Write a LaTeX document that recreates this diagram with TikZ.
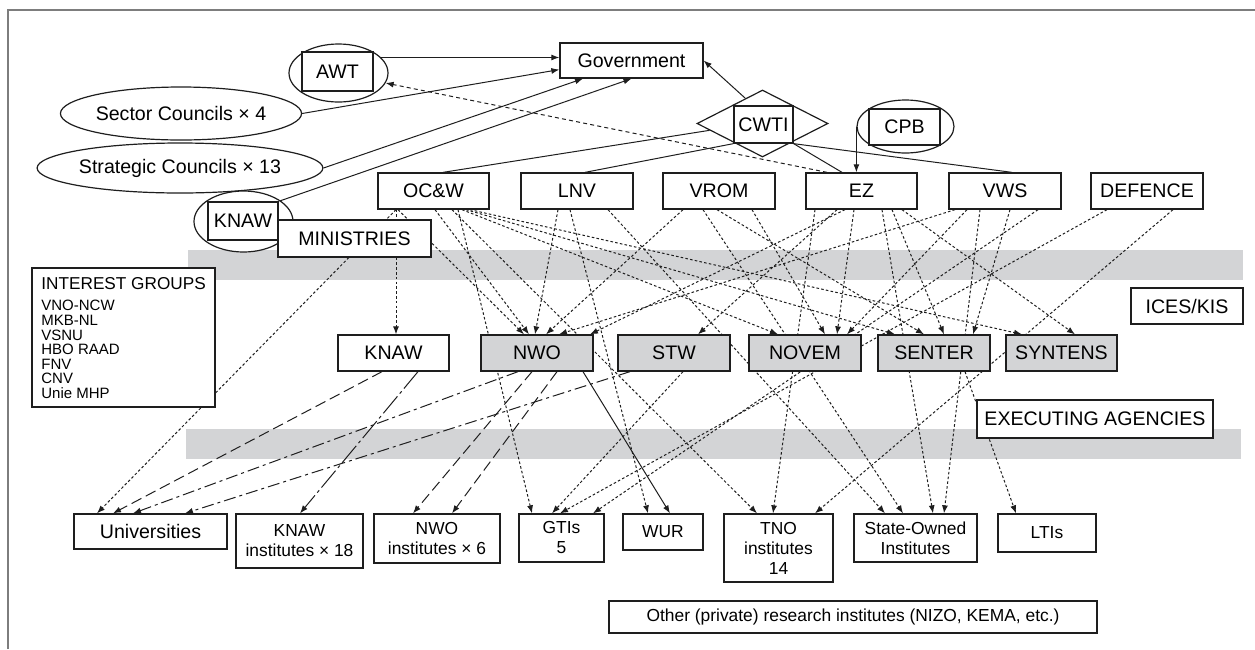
\documentclass[tikz,border=0pt]{standalone}
\usepackage{fontspec}
\setmainfont{Liberation Sans}
\usetikzlibrary{shapes.geometric,arrows.meta,calc}
\definecolor{bandgray}{RGB}{211,212,214}
\definecolor{framegray}{RGB}{125,125,125}
\definecolor{ink}{RGB}{30,30,30}
\pgfdeclarelayer{bands}
\pgfdeclarelayer{links}
\pgfsetlayers{bands,links,main}
\newcommand\fmain{\fontsize{9.8}{11}\selectfont}
\newcommand\fsmall{\fontsize{8.7}{10}\selectfont}
\begin{document}
\begin{tikzpicture}[x=0.5pt,y=-0.5pt,
  bx/.style={draw=ink, fill=white, line width=0.65pt, inner sep=0pt, font=\fmain, align=center},
  ag/.style={bx, fill=bandgray},
  sm/.style={font=\fsmall},
  el/.style={draw=ink, fill=white, ellipse, inner sep=0pt, line width=0.6pt, font=\fmain},
  sz/.style 2 args={minimum width={#1*0.5pt}, minimum height={#2*0.5pt}},
  ah/.style={-{Latex[length=4pt,width=3pt]}},
  lk/.style={draw=ink, line width=0.5pt},
  slink/.style={lk, ah},
  dlink/.style={lk, ah, dash pattern=on 1.3pt off 1.1pt},
  dashlink/.style={lk, ah, dash pattern=on 2pt off 1.6pt},
  ldlink/.style={lk, ah, dash pattern=on 5.5pt off 2.5pt},
  ddlink/.style={lk, ah, dash pattern=on 6pt off 2pt on 1.5pt off 2pt},
  lddlink/.style={lk, ah, dash pattern=on 11pt off 1.8pt on 1.5pt off 1.8pt}
]
\useasboundingbox (0,0) rectangle (1255,649);
\draw[framegray, line width=0.9pt] (8,649) -- (8,10) -- (1255,10);

\begin{pgfonlayer}{bands}
\fill[bandgray] (188,250) rectangle (1243,280);
\fill[bandgray] (186,429) rectangle (1241,459);
\end{pgfonlayer}

% top level
\node[el, sz={99}{58}] (awtE) at (338.5,73) {};
\node[bx, sz={71}{39}] (awt) at (337.5,71.5) {AWT};
\node[bx, sz={143}{35}] (gov) at (631.5,60.5) {Government};
\node[el, sz={232}{53}] (sec) at (181,113.5) {Sector Councils × 4};
\node[el, sz={230}{50}] (strat) at (180,168) {Strategic Councils × 13};
\node[el, sz={99}{61}] (knawE) at (243.5,221.5) {};
\node[bx, sz={70}{38}] (knawT) at (243,221) {KNAW};
\node[diamond, draw=ink, fill=white, line width=0.6pt, inner sep=0pt, sz={131}{67}] (cwtiD) at (762.5,123.5) {};
\node[bx, sz={59}{37}] (cwti) at (763.5,124.5) {CWTI};
\node[el, sz={97}{53}] (cpbE) at (905.5,126.5) {};
\node[bx, sz={71}{36}] (cpb) at (904.5,127) {CPB};

% ministries
\node[bx, sz={111}{36}] (ocw) at (433.5,191) {OC\&W};
\node[bx, sz={112}{36}] (lnv) at (577,191) {LNV};
\node[bx, sz={112}{36}] (vrom) at (719,191) {VROM};
\node[bx, sz={111}{36}] (ez) at (861.5,191) {EZ};
\node[bx, sz={112}{36}] (vws) at (1005,191) {VWS};
\node[bx, sz={112}{36}] (def) at (1147,191) {DEFENCE};
\node[bx, sz={153}{37}] (min) at (354.5,238.5) {MINISTRIES};

% interest groups
\node[bx, sz={183}{139}] (ig) at (123.5,337.5) {};
\node[anchor=base west, inner sep=0pt, font=\fontsize{8.6}{10}\selectfont] (igt) at (41,289) {INTEREST GROUPS};
\node[anchor=north west, inner sep=0pt, align=left, font=\fontsize{7.5}{7.3}\selectfont] (igl) at (41,300) {VNO-NCW\\MKB-NL\\VSNU\\HBO RAAD\\FNV\\CNV\\Unie MHP};

% agencies
\node[bx, sz={111}{36}] (knaw) at (393.5,353) {KNAW};
\node[ag, sz={112}{36}] (nwo) at (537,353) {NWO};
\node[ag, sz={112}{36}] (stw) at (674,353) {STW};
\node[ag, sz={112}{36}] (novem) at (805,353) {NOVEM};
\node[ag, sz={112}{36}] (senter) at (934,353) {SENTER};
\node[ag, sz={111}{36}] (syntens) at (1061.5,353) {SYNTENS};
\node[bx, sz={112}{36}] (ices) at (1187,306) {ICES/KIS};
\node[bx, sz={236}{38}] (exec) at (1095,419) {EXECUTING AGENCIES};

% institutes
\node[bx, sz={153}{35}] (univ) at (150.5,531.5) {Universities};
\node[bx, sm, sz={127}{54}] (knawi) at (299.5,541) {KNAW\\institutes × 18};
\node[bx, sm, sz={126}{49}] (nwoi) at (437,538.5) {NWO\\institutes × 6};
\node[bx, sm, sz={85}{48}] (gti) at (561.5,538) {GTIs\\5};
\node[bx, sm, sz={80}{36}] (wur) at (663,532) {WUR};
\node[bx, sm, sz={109}{68}] (tno) at (778.5,548) {TNO\\institutes\\14};
\node[bx, sm, sz={123}{48}] (state) at (915.5,538) {State-Owned\\Institutes};
\node[bx, sm, sz={98}{38}] (lti) at (1047,533) {LTIs};
\node[bx, sm, sz={488}{32}] (other) at (853,617) {Other (private) research institutes (NIZO, KEMA, etc.)};

\begin{pgfonlayer}{links}
% towards government
\draw[slink] (awtE.20) -- (gov.west |- awtE.20);
\draw[slink] (sec.east) -- ($(gov.west)!0.5!(gov.south west)$);
\draw[slink] (strat.east) -- (gov.south -| 583,0);
\draw[slink] (knawT.north east) -- (gov.south);
\draw[slink] ($(cwtiD.north)!0.26!(cwtiD.west)$) -- (gov.east);
\draw[dashlink] (ez.north -| 827,0) -- (awtE.-12);
\draw[slink] (cpbE.west) -- (cpbE.west |- ez.north);
% CWTI to ministries
\draw[lk] ($(cwtiD.west)!0.2!(cwtiD.south)$) -- (ocw.north -| 443,0);
\draw[lk] (cwti.south west) -- (lnv.north -| 585,0);
\draw[lk] (cwti.south east) -- (ez.north -| 842,0);
\draw[lk] (cwti.south east) -- (vws.north -| 1012,0);
% OC&W
\draw[dlink] (ocw.south -| 396,0) -- (knaw.north -| 396,0);
\draw[dlink] (ocw.south -| 396,0) -- (univ.north -| 97,0);
\draw[dlink] (ocw.south -| 398,0) -- (nwo.north -| 524,0);
\draw[dlink] (ocw.south -| 435,0) -- (nwo.north -| 529,0);
\draw[dlink] (ocw.south -| 452,0) -- (tno.north -| 757,0);
\draw[dlink] (ocw.south -| 458,0) -- (gti.north -| 532,0);
\draw[dlink] (ocw.south -| 462,0) -- (novem.north -| 778,0);
\draw[dlink] (ocw.south -| 466,0) -- (senter.north -| 895,0);
\draw[dlink] (ocw.south -| 470,0) -- (syntens.north -| 1022,0);
% LNV
\draw[dlink] (lnv.south -| 558,0) -- (nwo.north -| 535,0);
\draw[dlink] (lnv.south -| 570,0) -- (wur.north -| 648,0);
\draw[dlink] (lnv.south -| 608,0) -- (state.north -| 885,0);
% VROM
\draw[dlink] (vrom.south -| 683,0) -- (nwo.north -| 546,0);
\draw[dlink] (vrom.south -| 703,0) -- (state.north -| 903,0);
\draw[dlink] (vrom.south -| 717,0) -- (senter.north -| 924,0);
\draw[dlink] (vrom.south -| 752,0) -- (novem.north -| 825,0);
% EZ
\draw[dlink] (ez.south -| 815,0) -- (tno.north -| 773,0);
\draw[dlink] (ez.south -| 837,0) -- (stw.north -| 698,0);
\draw[dlink] (ez.south -| 845,0) -- (nwo.north -| 590,0);
\draw[dlink] (ez.south -| 854,0) -- (novem.north -| 837,0);
\draw[dlink] (ez.south -| 882,0) -- (state.north -| 933,0);
\draw[dlink] (ez.south -| 892,0) -- (senter.north -| 944,0);
\draw[dlink] (ez.south -| 902,0) -- (syntens.north -| 1075,0);
% VWS
\draw[dlink] (vws.south -| 955,0) -- (nwo.north -| 559,0);
\draw[dlink] (vws.south -| 967,0) -- (novem.north -| 847,0);
\draw[dlink] (vws.south -| 980,0) -- (state.north -| 944,0);
\draw[dlink] (vws.south -| 1010,0) -- (senter.north -| 973,0);
\draw[dlink] (vws.south -| 1038,0) -- (gti.north -| 593,0);
% DEFENCE
\draw[dlink] (def.south -| 1107,0) -- (gti.north -| 560,0);
\draw[dlink] (def.south -| 1173,0) -- (tno.north -| 815,0);
% agencies to institutes
\draw[dlink] (stw.south -| 683,0) -- (gti.north -| 552,0);
\draw[dlink] (senter.south -| 965,0) -- (lti.north -| 1016,0);
\draw[ldlink] (knaw.south -| 382,0) -- (univ.north -| 113,0);
\draw[lddlink] (knaw.south -| 418,0) -- (knawi.north -| 300,0);
\draw[ddlink] (nwo.south -| 518,0) -- (univ.north -| 133,0);
\draw[ldlink] (nwo.south -| 532,0) -- (nwoi.north -| 413,0);
\draw[ldlink] (nwo.south -| 557,0) -- (nwoi.north -| 452,0);
\draw[slink] (nwo.south -| 583,0) -- (wur.north -| 670,0);
\draw[ddlink] (stw.south -| 630,0) -- (univ.north -| 185,0);
\end{pgfonlayer}
\end{tikzpicture}
\end{document}
